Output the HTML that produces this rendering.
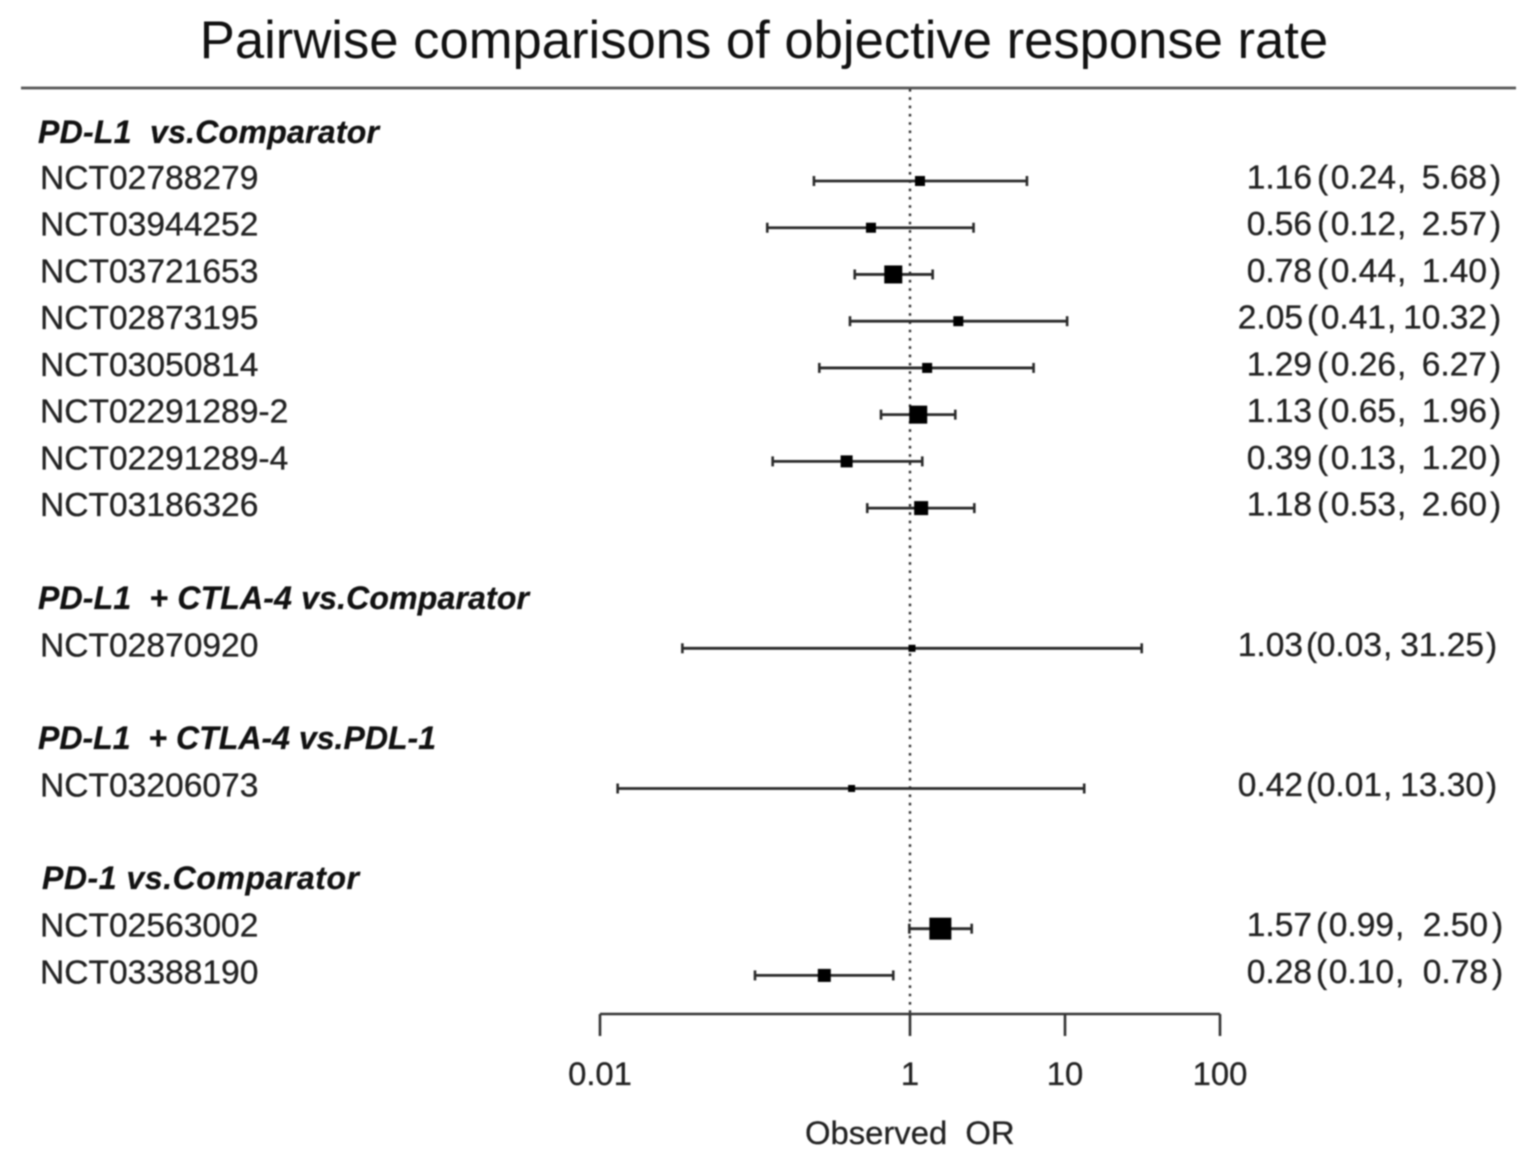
<!DOCTYPE html>
<html lang="en">
<head>
<meta charset="utf-8">
<title>Pairwise comparisons of objective response rate</title>
<style>
html,body{margin:0;padding:0;background:#fff;}
svg{display:block;filter:blur(0.7px);}
text{font-family:"Liberation Sans",sans-serif;fill:#222;white-space:pre;stroke:#222;stroke-width:0.3px;}
</style>
</head>
<body>
<svg id="chart" xmlns="http://www.w3.org/2000/svg" width="1535" height="1166" viewBox="0 0 1535 1166">
<rect x="0" y="0" width="1535" height="1166" fill="#fff"/>
<text x="764" y="58" text-anchor="middle" font-size="52.6" style="fill:#111;stroke:none">Pairwise comparisons of objective response rate</text>
<line x1="21" y1="88" x2="1516" y2="88" stroke="#555" stroke-width="2.8"/>
<text x="38" y="143" font-size="32" textLength="341" lengthAdjust="spacing" font-weight="700" font-style="italic" style="fill:#111">PD-L1  vs.Comparator</text>
<text x="38" y="609" font-size="32" textLength="491" lengthAdjust="spacing" font-weight="700" font-style="italic" style="fill:#111">PD-L1  + CTLA-4 vs.Comparator</text>
<text x="38" y="749" font-size="32" textLength="398" lengthAdjust="spacing" font-weight="700" font-style="italic" style="fill:#111">PD-L1  + CTLA-4 vs.PDL-1</text>
<text x="42" y="889" font-size="32" textLength="317" lengthAdjust="spacing" font-weight="700" font-style="italic" style="fill:#111">PD-1 vs.Comparator</text>
<text x="805" y="1144" font-size="32.8">Observed  OR</text>
<g id="plot"></g>
</svg>
<script>
const trials = ["NCT02788279","NCT03944252","NCT03721653","NCT02873195","NCT03050814","NCT02291289-2","NCT02291289-4","NCT03186326","NCT02870920","NCT03206073","NCT02563002","NCT03388190"];
const oddsRatios = [1.16,0.56,0.78,2.05,1.29,1.13,0.39,1.18,1.03,0.42,1.57,0.28];
const ciLower = [0.24,0.12,0.44,0.41,0.26,0.65,0.13,0.53,0.034,0.013,0.99,0.10];
const ciUpper = [5.68,2.57,1.40,10.32,6.27,1.96,1.20,2.60,31.25,13.30,2.50,0.78];
const studyWeights = [10,10,18,10,10,18,12,14,7,7,22,13];
const rowSlots = [0,1,2,3,4,5,6,7,10,13,16,17];
const axisTicks = [0.01,1,10,100];
const axisTickLabels = ["0.01","1","10","100"];

const NS = "http://www.w3.org/2000/svg";
const plot = document.getElementById("plot");
const xScale = v => 910 + 155 * Math.log10(v);
const yScale = slot => 181 + slot * 46.73;
const fmt = v => v.toFixed(2);

function make(tag, attrs, parent) {
  const el = document.createElementNS(NS, tag);
  Object.keys(attrs).forEach(k => el.setAttribute(k, attrs[k]));
  parent.appendChild(el);
  return el;
}

const xMin = xScale(axisTicks[0]);
const xMax = xScale(axisTicks[axisTicks.length - 1]);
const axisY = 1014;

const refLine = make("line", {x1: xScale(1), y1: 89, x2: xScale(1), y2: axisY, stroke: "#333", "stroke-width": 2.4, "stroke-dasharray": "2.6 5.7"}, plot);



const axisLine = make("line", {x1: xMin, y1: axisY, x2: xMax, y2: axisY, stroke: "#333", "stroke-width": 2.6}, plot);



axisTicks.forEach((t, i) => {
  const tick = make("line", {x1: xScale(t), y1: axisY, x2: xScale(t), y2: axisY + 22, stroke: "#333", "stroke-width": 2.6}, plot);
  
  
  const lab = make("text", {x: xScale(t), y: 1085, "text-anchor": "middle", "font-size": 32.8}, plot);
  lab.textContent = axisTickLabels[i];
  
  
});

function valueColumns(i) {
  if (ciUpper[i] > 12) return {or: 1303, open: 1306, lo: 1382, hi: 1484, close: 1486};
  if (ciUpper[i] >= 10) return {or: 1303, open: 1307, lo: 1386, hi: 1487, close: 1490};
  if (rowSlots[i] >= 16) return {or: 1312, open: 1316, lo: 1394, hi: 1488, close: 1492};
  return {or: 1312, open: 1317, lo: 1396, hi: 1487, close: 1490};
}

trials.forEach((name, i) => {
  const y = yScale(rowSlots[i]);
  const label = make("text", {x: 40, y: y + 8, "font-size": 33.6}, plot);
  label.textContent = name;
  
  

  const x1 = xScale(ciLower[i]), x2 = xScale(ciUpper[i]);
  const ci = make("line", {x1: x1, y1: y, x2: x2, y2: y, stroke: "#2a2a2a", "stroke-width": 2.8}, plot);
  
  
  [x1, x2].forEach(cx => {
    const cap = make("line", {x1: cx, y1: y - 5, x2: cx, y2: y + 5, stroke: "#2a2a2a", "stroke-width": 2.6}, plot);
    
    
  });

  const s = studyWeights[i];
  const box = make("rect", {x: xScale(oddsRatios[i]) - s / 2, y: y - s / 2, width: s, height: s, fill: "#000"}, plot);
  
  

  const col = valueColumns(i);
  const ty = y + 7.5;
  const orText = make("text", {x: col.or, y: ty, "text-anchor": "end", "font-size": 33.5}, plot);
  orText.textContent = fmt(oddsRatios[i]);
  
  

  const open = make("text", {x: col.open, y: ty, "font-size": 33.5}, plot);
  open.textContent = "(";
  
  

  const lo = make("text", {x: col.lo, y: ty, "text-anchor": "end", "font-size": 33.5}, plot);
  lo.textContent = fmt(ciLower[i]);
  
  

  const comma = make("text", {x: col.lo + 1, y: ty, "font-size": 33.5}, plot);
  comma.textContent = ",";
  
  

  const hi = make("text", {x: col.hi, y: ty, "text-anchor": "end", "font-size": 33.5}, plot);
  hi.textContent = fmt(ciUpper[i]);
  
  

  const close = make("text", {x: col.close, y: ty, "font-size": 33.5}, plot);
  close.textContent = ")";
  
  
});
</script>
</body>
</html>
